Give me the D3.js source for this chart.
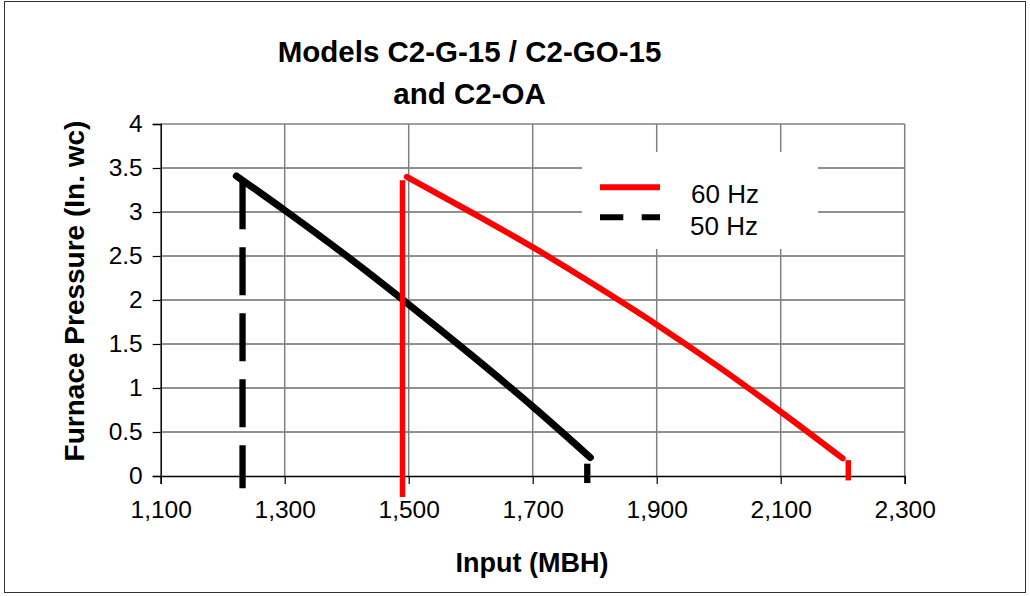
<!DOCTYPE html>
<html><head><meta charset="utf-8">
<script src="https://cdn.jsdelivr.net/npm/d3@7"></script>
<style>body{margin:0;background:#fff}svg{display:block}text{font-family:"Liberation Sans",Arial,sans-serif}</style>
</head><body><svg id="c" width="1030" height="596"></svg>
<script>
// ---- data ----
const titleLines = ["Models C2-G-15 / C2-GO-15", "and C2-OA"];
const xTicks = [1100, 1300, 1500, 1700, 1900, 2100, 2300];
const xTickLabels = ["1,100", "1,300", "1,500", "1,700", "1,900", "2,100", "2,300"];
const yTicks = [0, 0.5, 1, 1.5, 2, 2.5, 3, 3.5, 4];
const yTickLabels = ["0", "0.5", "1", "1.5", "2", "2.5", "3", "3.5", "4"];
const xTitle = "Input (MBH)";
const yTitle = "Furnace Pressure (In. wc)";
const seriesNames = ["60 Hz", "50 Hz"];
// 60 Hz curve
const hz60X = [1497, 1600, 1700, 1800, 1900, 2000, 2100, 2200];
const hz60Y = [3.40, 3.00, 2.60, 2.17, 1.72, 1.24, 0.73, 0.20];
// 50 Hz curve
const hz50X = [1222, 1300, 1400, 1500, 1600, 1700, 1793];
const hz50Y = [3.41, 3.02, 2.50, 1.95, 1.38, 0.79, 0.21];
// vertical limit markers: [x, yTop, yBottom]
const hz60Limits = [[1490, 3.36, -0.24], [2209, 0.18, -0.05]];
const hz50Limits = [[1232, 3.35, -0.14], [1788, 0.14, -0.08]];

// ---- chart ----
const svg = d3.select("#c");
const x = d3.scaleLinear().domain([1100, 2300]).range([160.7, 904.7]);
const y = d3.scaleLinear().domain([0, 4]).range([476, 124]);

// outer frame
svg.append("rect").attr("x", 4.5).attr("y", 1.5).attr("width", 1021).attr("height", 591)
  .attr("fill", "#fff").attr("stroke", "#333").attr("stroke-width", 1);

// gridlines
const g = svg.append("g");
g.selectAll(".hg").data(yTicks.slice(1)).join("line")
  .attr("x1", x(1100)).attr("x2", x(2300)).attr("y1", d => y(d)).attr("y2", d => y(d))
  .attr("stroke", d => d === 4 ? "#808080" : "#222").attr("stroke-width", d => d === 4 ? 1.5 : 1);
g.selectAll(".vg").data(xTicks.slice(1)).join("line")
  .attr("y1", y(0)).attr("y2", y(4)).attr("x1", d => x(d)).attr("x2", d => x(d))
  .attr("stroke", "#808080").attr("stroke-width", 1.5);

// legend box (hides gridlines)
svg.append("rect").attr("x", 582).attr("y", 152).attr("width", 236).attr("height", 97).attr("fill", "#fff");

// axes
const yAxis = d3.axisLeft(y).tickValues(yTicks).tickFormat((d, i) => yTickLabels[i]).tickSize(8).tickPadding(10);
const xAxis = d3.axisBottom(x).tickValues(xTicks).tickFormat((d, i) => xTickLabels[i]).tickSize(8).tickPadding(22);
const ya = svg.append("g").attr("transform", `translate(${x(1100)},0)`).call(yAxis);
const xa = svg.append("g").attr("transform", `translate(0,${y(0)})`).call(xAxis);
[ya, xa].forEach(a => {
  a.select(".domain").attr("stroke", "#000").attr("stroke-width", 1.5);
  a.selectAll(".tick line").attr("stroke", "#000").attr("stroke-width", 1.2);
  a.selectAll(".tick text").attr("font-size", 24.5).attr("fill", "#000")
    .style("font-family", "'Liberation Sans', Arial, sans-serif");
});
xa.selectAll(".tick text").attr("dy", "0.5em");

// series lines
const line = d3.line().x(d => x(d[0])).y(d => y(d[1])).curve(d3.curveMonotoneX);
const d60 = hz60X.map((v, i) => [v, hz60Y[i]]);
const d50 = hz50X.map((v, i) => [v, hz50Y[i]]);
svg.append("path").attr("d", line(d50)).attr("fill", "none").attr("stroke", "#000")
  .attr("stroke-width", 7).attr("stroke-linecap", "round").attr("stroke-linejoin", "round");
svg.append("path").attr("d", line(d60)).attr("fill", "none").attr("stroke", "#ff0000")
  .attr("stroke-width", 6).attr("stroke-linecap", "round").attr("stroke-linejoin", "round");

svg.selectAll(".l60").data(hz60Limits).join("line")
  .attr("x1", d => x(d[0])).attr("x2", d => x(d[0])).attr("y1", d => y(d[1])).attr("y2", d => y(d[2]))
  .attr("stroke", "#ff0000").attr("stroke-width", 5.5);
svg.selectAll(".l50").data(hz50Limits).join("line")
  .attr("x1", d => x(d[0])).attr("x2", d => x(d[0])).attr("y1", d => y(d[1])).attr("y2", d => y(d[2]))
  .attr("stroke", "#000").attr("stroke-width", 6.3)
  .attr("stroke-dasharray", (d, i) => i === 0 ? "48,18" : null);

// legend
svg.append("line").attr("x1", 600).attr("x2", 660).attr("y1", 187.3).attr("y2", 187.3)
  .attr("stroke", "#ff0000").attr("stroke-width", 6);
svg.append("line").attr("x1", 600).attr("x2", 660).attr("y1", 217.3).attr("y2", 217.3)
  .attr("stroke", "#000").attr("stroke-width", 6).attr("stroke-dasharray", "23.3,18.4");
svg.append("text").attr("x", 691).attr("y", 203.3).attr("font-size", 26).text(seriesNames[0]);
svg.append("text").attr("x", 690).attr("y", 235).attr("font-size", 26).text(seriesNames[1]);

// titles
svg.selectAll(".title").data(titleLines).join("text")
  .attr("x", 469.5).attr("y", (d, i) => 61.7 + i * 42).attr("text-anchor", "middle")
  .attr("font-size", 29.5).attr("font-weight", "bold").text(d => d);
svg.append("text").attr("x", 532).attr("y", 572).attr("text-anchor", "middle")
  .attr("font-size", 27).attr("font-weight", "bold").text(xTitle);
svg.append("text").attr("transform", "translate(84,291) rotate(-90)").attr("text-anchor", "middle")
  .attr("font-size", 28).attr("font-weight", "bold").text(yTitle);
</script></body></html>
